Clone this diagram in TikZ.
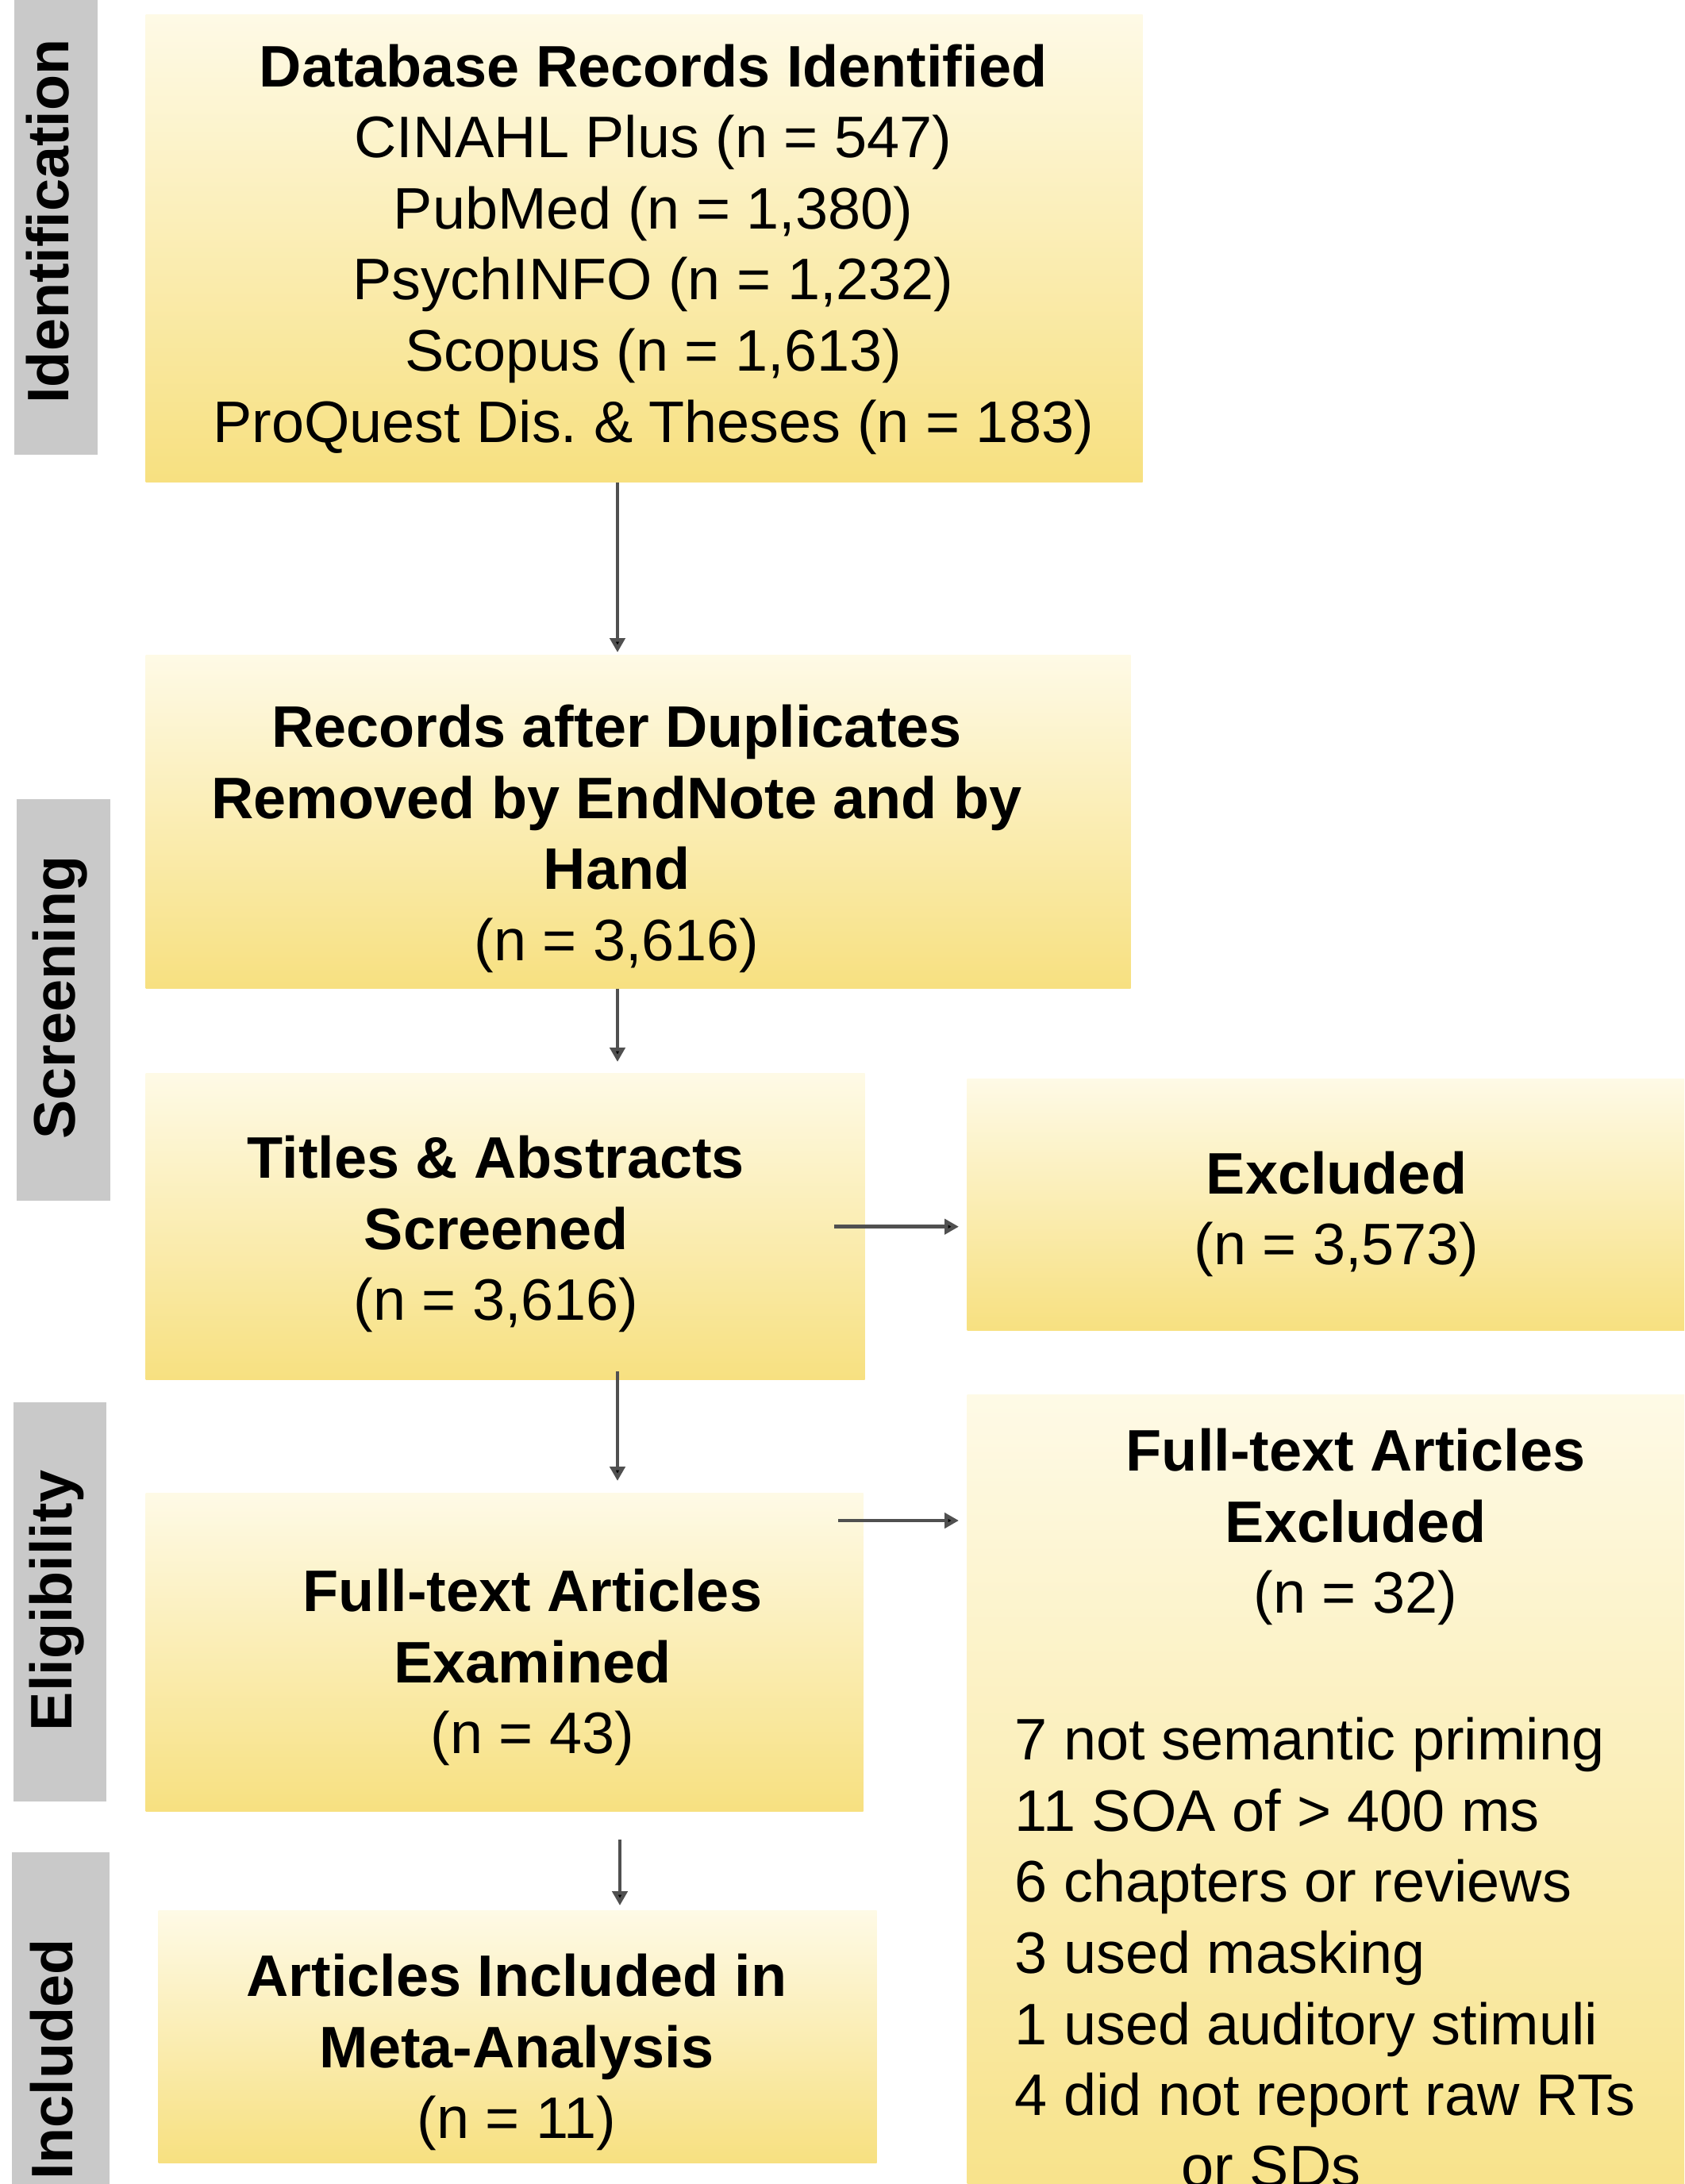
\documentclass[tikz,border=0pt]{standalone}
\usepackage{fontspec}
\setmainfont{Liberation Sans}
\usetikzlibrary{arrows.meta,shadings}
\definecolor{boxtop}{RGB}{254,250,230}
\definecolor{boxbot}{RGB}{247,224,128}
\definecolor{sidegray}{RGB}{201,201,201}
\definecolor{arrgray}{RGB}{80,80,80}
\tikzset{
  box/.style={rectangle, draw=none, top color=boxtop, bottom color=boxbot, anchor=north west, inner sep=0pt},
  side/.style={rectangle, draw=none, fill=sidegray, anchor=north west, inner sep=0pt},
  sidetext/.style={rotate=90, font=\fontsize{21}{25}\selectfont\bfseries, text=black, inner sep=0pt, text height=0.72em, text depth=0pt},
  txt/.style={align=center, font=\fontsize{21}{25.5}\selectfont, text=black, inner sep=0pt},
  lst/.style={align=left, font=\fontsize{21}{25.5}\selectfont, text=black, inner sep=0pt, anchor=west},
  arr/.style={draw=arrgray, line width=1.3pt, -{Triangle[length=1.8mm,width=1.9mm,fill=black]}},
}
\begin{document}
\begin{tikzpicture}
\useasboundingbox (0,0) rectangle (21.22,-27.52);
\clip (0,0) rectangle (21.22,-27.52);
% side labels
\node[side, minimum width=1.05cm, minimum height=5.92cm] (s1) at (0.17,0.2) {};
\node[side, minimum width=1.18cm, minimum height=5.06cm] (s2) at (0.20,-10.06) {};
\node[side, minimum width=1.17cm, minimum height=5.03cm] (s3) at (0.16,-17.66) {};
\node[side, minimum width=1.23cm, minimum height=4.60cm] (s4) at (0.14,-23.33) {};
\node[sidetext] (l1) at (0.74,-2.79) {Identification};
\node[sidetext] (l2) at (0.82,-12.57) {Screening};
\node[sidetext] (l3) at (0.78,-20.17) {Eligibility};
\node[sidetext] (l4) at (0.79,-25.95) {Included};
% boxes
\node[box, minimum width=12.56cm, minimum height=5.89cm] (b1) at (1.83,-0.18) {};
\node[box, minimum width=12.41cm, minimum height=4.20cm] (b2) at (1.83,-8.25) {};
\node[box, minimum width=9.06cm, minimum height=3.86cm] (b3) at (1.83,-13.52) {};
\node[box, minimum width=9.30cm, minimum height=3.17cm] (b4) at (12.18,-13.59) {};
\node[box, minimum width=9.30cm, minimum height=11.20cm] (b5) at (12.18,-17.57) {};
\node[box, minimum width=9.04cm, minimum height=4.01cm] (b6) at (1.83,-18.81) {};
\node[box, minimum width=9.05cm, minimum height=3.18cm] (b7) at (1.99,-24.07) {};
% texts
\node[txt] (t1) at (8.23,-3.14) {\textbf{Database Records Identified}\\CINAHL Plus (n = 547)\\PubMed (n = 1,380)\\PsychINFO (n = 1,232)\\Scopus (n = 1,613)\\ProQuest Dis.\ \& Theses (n = 183)};
\node[txt] (t2) at (7.77,-10.57) {\textbf{Records after Duplicates}\\\textbf{Removed by EndNote and by}\\\textbf{Hand}\\(n = 3,616)};
\node[txt] (t3) at (6.25,-15.55) {\textbf{Titles \& Abstracts}\\\textbf{Screened}\\(n = 3,616)};
\node[txt] (t4) at (16.84,-15.30) {\textbf{Excluded}\\(n = 3,573)};
\node[txt] (t5) at (17.08,-19.24) {\textbf{Full-text Articles}\\\textbf{Excluded}\\(n = 32)};
\node[lst] (t5l) at (12.78,-24.60) {7 not semantic priming\\11 SOA of > 400 ms\\6 chapters or reviews\\3 used masking\\1 used auditory stimuli\\4 did not report raw RTs\\\hspace*{2.1cm}or SDs};
\node[txt] (t6) at (6.71,-21.01) {\textbf{Full-text Articles}\\\textbf{Examined}\\(n = 43)};
\node[txt] (t7) at (6.51,-25.86) {\textbf{Articles Included in}\\\textbf{Meta-Analysis}\\(n = 11)};
% connectors
\coordinate (ax) at (7.78,0);
\coordinate (ax2) at (7.81,0);
\coordinate (hy) at (0,-19.16);
\draw[arr, shorten >=0.03cm] (b1.south -| ax) -- (b2.north -| ax);
\draw[arr, shorten >=0.14cm] (b2.south -| ax) -- (b3.north -| ax);
\draw[arr, shorten <=-0.11cm, shorten >=0.15cm] (b3.south -| ax) -- (b6.north -| ax);
\draw[arr, shorten <=0.35cm, shorten >=0.06cm] (b6.south -| ax2) -- (b7.north -| ax2);
\draw[arr, shorten <=-0.39cm, shorten >=0.10cm] (b3.east) -- (b3.east -| b4.west);
\draw[arr, shorten <=-0.32cm, shorten >=0.10cm] (b6.east |- hy) -- (b5.west |- hy);
\end{tikzpicture}
\end{document}
